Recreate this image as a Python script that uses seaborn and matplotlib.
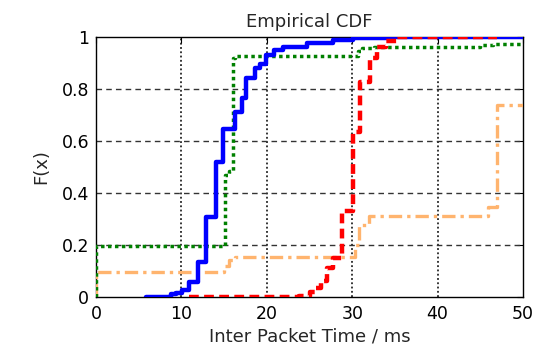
import matplotlib
matplotlib.use("Agg")
import matplotlib.pyplot as plt
import seaborn as sns
import pandas as pd

# ---- data (step points) ----
blue_x = [5.9, 8.8, 9.4, 10.1, 10.9, 11.9, 12.9, 14.0, 14.9, 16.3, 17.1, 17.6, 18.6, 19.2, 19.9, 20.8, 21.9, 24.7, 27.8, 30.1, 34.4, 50.0]
blue_y = [0.0, 0.01, 0.016, 0.027, 0.059, 0.136, 0.309, 0.52, 0.647, 0.713, 0.764, 0.841, 0.879, 0.898, 0.93, 0.95, 0.963, 0.976, 0.988, 0.995, 1.0, 1.0]

green_x = [0.0, 0.0, 15.1, 15.6, 16.0, 16.3, 30.7, 31.2, 32.5, 45.0, 46.5, 50.0]
green_y = [0.0, 0.195, 0.47, 0.485, 0.92, 0.928, 0.945, 0.958, 0.963, 0.969, 0.973, 0.973]

red_x = [10.9, 23.8, 25.0, 25.8, 26.4, 27.0, 27.8, 28.8, 30.1, 30.9, 32.1, 32.9, 34.0, 35.2, 47.0]
red_y = [0.0, 0.005, 0.02, 0.034, 0.06, 0.11, 0.15, 0.33, 0.636, 0.828, 0.918, 0.96, 0.985, 1.0, 1.0]

orange_x = [0.0, 0.0, 15.0, 15.6, 16.3, 30.3, 30.8, 32.0, 45.9, 46.9, 50.0]
orange_y = [0.0, 0.097, 0.12, 0.142, 0.152, 0.2, 0.277, 0.312, 0.347, 0.738, 0.738]

x_ticks = [0, 10, 20, 30, 40, 50]
y_ticks = [0, 0.2, 0.4, 0.6, 0.8, 1]
y_tick_labels = ["0", "0.2", "0.4", "0.6", "0.8", "1"]

title = "Empirical CDF"
xlabel = "Inter Packet Time / ms"
ylabel = "F(x)"

# ---- plotting ----
sns.set_style("white")
plt.rcParams["font.family"] = ["DejaVu Sans"]

fig = plt.figure(figsize=(5.36, 3.44), dpi=100)
ax = fig.add_axes([96 / 536, 1 - 297 / 344, (523 - 96) / 536, (297 - 37) / 344])

series = [
    (orange_x, orange_y, "#FFB46E", (0, (4, 1.5, 1, 1.5)), 2.4),
    (green_x, green_y, "#008000", (0, (1, 1)), 2.5),
    (blue_x, blue_y, "#0000FF", "-", 3.2),
    (red_x, red_y, "#FF0000", (0, (2.2, 1.2)), 3.2),
]
for xs, ys, col, ls, lw in series:
    df = pd.DataFrame({"x": xs, "y": ys})
    sns.lineplot(data=df, x="x", y="y", ax=ax, color=col, linestyle=ls,
                 linewidth=lw, drawstyle="steps-post", sort=False,
                 estimator=None, zorder=3)

ax.set_xlim(0, 50)
ax.set_ylim(0, 1)
ax.set_xticks(x_ticks)
ax.set_yticks(y_ticks)
ax.set_yticklabels(y_tick_labels)

for xv in x_ticks[1:-1]:
    ax.axvline(xv, color="black", linestyle=(0, (1.2, 1.6)), linewidth=1.1, zorder=1)
for yv in y_ticks[1:-1]:
    ax.axhline(yv, color="#333333", linestyle=(0, (4, 3)), linewidth=1.0, zorder=1)

ax.tick_params(direction="in", length=4, width=0.8, top=True, right=True,
               labelsize=12.5, colors="black")
ax.tick_params(axis="x", pad=6)
ax.tick_params(axis="y", pad=5)
for s in ax.spines.values():
    s.set_color("black")
    s.set_linewidth(1.0)
    s.set_visible(True)

ax.set_title(title, fontsize=13, pad=7)
ax.set_xlabel(xlabel, fontsize=13, labelpad=3)
ax.set_ylabel(ylabel, fontsize=13, labelpad=8)

fig.savefig("out.png", dpi=100)
